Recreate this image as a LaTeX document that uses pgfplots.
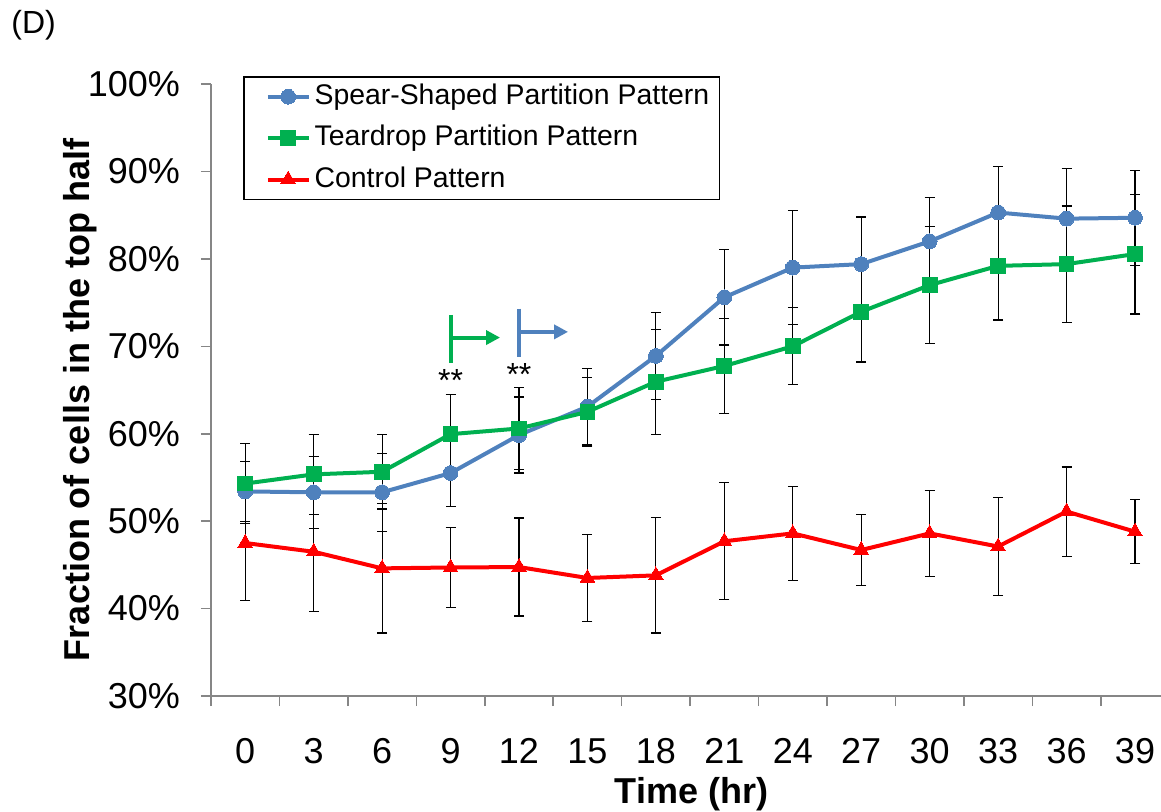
\documentclass[border=0pt]{standalone}
\usepackage{pgfplots}
\pgfplotsset{compat=1.18}
\usepackage{pgfplotstable}
\usepackage{fontspec}
\setmainfont{Liberation Sans}
\usetikzlibrary{arrows.meta}
\definecolor{cblue}{HTML}{4F81BD}
\definecolor{cgreen}{HTML}{00B050}
\definecolor{cred}{HTML}{FF0000}
\definecolor{caxis}{HTML}{868686}

\pgfplotstableread{
t y e
0 53.4 3.45
3 53.3 4.1
6 53.3 4.45
9 55.5 3.8
12 59.85 4.35
15 63.1 4.4
18 68.9 5.0
21 75.6 5.45
24 79.0 6.5
27 79.4 5.4
30 82.0 5.0
33 85.3 5.25
36 84.6 5.7
39 84.7 5.45
}\spear
\pgfplotstableread{
t y e
0 54.3 4.6
3 55.35 4.55
6 55.65 4.25
9 59.95 4.55
12 60.6 4.65
15 62.5 3.95
18 65.95 6.0
21 67.75 5.45
24 70.0 4.4
27 73.95 5.75
30 77.0 6.7
33 79.2 6.2
36 79.4 6.65
39 80.55 6.85
}\tear
\pgfplotstableread{
t y e
0 47.5 6.6
3 46.5 6.8
6 44.6 7.4
9 44.7 4.6
12 44.75 5.6
15 43.5 5.0
18 43.8 6.6
21 47.7 6.7
24 48.6 5.4
27 46.7 4.1
30 48.6 4.95
33 47.1 5.6
36 51.1 5.1
39 48.8 3.65
}\control

\begin{document}
\begin{tikzpicture}
\useasboundingbox (-105.5pt,-57.5pt) rectangle (475pt,348pt);
\begin{axis}[
  scale only axis,
  width=475pt, height=306pt,
  xmin=-1.5, xmax=40.14,
  ymin=30, ymax=100,
  axis x line*=bottom, axis y line*=left,
  x axis line style={-, draw=caxis, line width=0.8pt},
  y axis line style={-, draw=caxis, line width=0.8pt},
  tick align=outside,
  xtick={0,3,...,39},
  xticklabels={0,3,6,9,12,15,18,21,24,27,30,33,36,39},
  major x tick style={draw=none},
  minor xtick={-1.5,1.5,...,37.5},
  minor x tick style={draw=caxis, line width=0.8pt},
  minor tick length=5pt,
  ytick={30,40,...,100},
  yticklabels={30\%,40\%,50\%,60\%,70\%,80\%,90\%,100\%},
  major y tick style={draw=caxis, line width=0.8pt},
  major tick length=5pt,
  ticklabel style={font=\fontsize{18}{21}\selectfont},
  yticklabel style={xshift=-7pt},
  xticklabel style={yshift=-12pt, anchor=north, text height=13pt, text depth=0pt},
  xlabel={Time (hr)},
  ylabel={Fraction of cells in the top half},
  xlabel style={font=\fontsize{18}{21}\bfseries, at={(axis description cs:0.5058,0)}, anchor=base, yshift=-53.5pt},
  ylabel style={font=\fontsize{18}{21}\bfseries, at={(axis description cs:-0.1379,0.4837)}, anchor=center},
  legend style={at={(axis description cs:0.0337,1.013)}, anchor=north west,
    draw=black, line width=0.75pt, font=\fontsize{14.2}{17}\selectfont,
    inner xsep=3pt, inner ysep=1.2pt, row sep=3.2pt,
    nodes={inner sep=2pt, text height=10.5pt, text depth=3pt}},
  legend cell align=left,
  legend image code/.code={\path (0cm,0cm); \draw[mark repeat=2,mark phase=2] plot coordinates {(8pt,0cm) (18.2pt,0cm) (28.4pt,0cm)};},
  error bars/error bar style={black, line width=0.6pt},
  error bars/error mark options={black, rotate=90, mark size=2.5pt, line width=0.6pt},
]
\addplot[cblue, line width=2pt, mark=*, mark size=3.7pt, mark options={fill=cblue, draw=cblue, line width=0pt},
  error bars/.cd, y dir=both, y explicit] table[x=t, y=y, y error=e] {\spear};
\addlegendentry{Spear-Shaped Partition Pattern}
\addplot[cgreen, line width=2pt, mark=square*, mark size=3.7pt, mark options={fill=cgreen, draw=cgreen, line width=0pt},
  error bars/.cd, y dir=both, y explicit] table[x=t, y=y, y error=e] {\tear};
\addlegendentry{Teardrop Partition Pattern}
\addplot[cred, line width=2pt, mark=triangle*, mark size=4.2pt, mark options={fill=cred, draw=cred, line width=0pt},
  error bars/.cd, y dir=both, y explicit] table[x=t, y=y, y error=e] {\control};
\addlegendentry{Control Pattern}

\draw[cgreen, line width=2pt] (axis cs:9,73.6) -- (axis cs:9,68.1);
\draw[cgreen, line width=2pt, -{Triangle[length=7pt,width=7pt]}] (axis cs:9,71.0) -- (axis cs:11.17,71.0);
\draw[cblue, line width=2pt] (axis cs:12,74.3) -- (axis cs:12,68.8);
\draw[cblue, line width=2pt, -{Triangle[length=7pt,width=7pt]}] (axis cs:12,71.65) -- (axis cs:14.15,71.65);
\node[anchor=north, inner sep=0pt, font=\fontsize{16}{19}\selectfont] at (axis cs:9,67.45) {**};
\node[anchor=north, inner sep=0pt, font=\fontsize{16}{19}\selectfont] at (axis cs:12,68.1) {**};
\end{axis}
\node[anchor=west, inner sep=0pt, font=\fontsize{16}{19}\selectfont] at (-100pt,335.5pt) {(D)};
\end{tikzpicture}
\end{document}
